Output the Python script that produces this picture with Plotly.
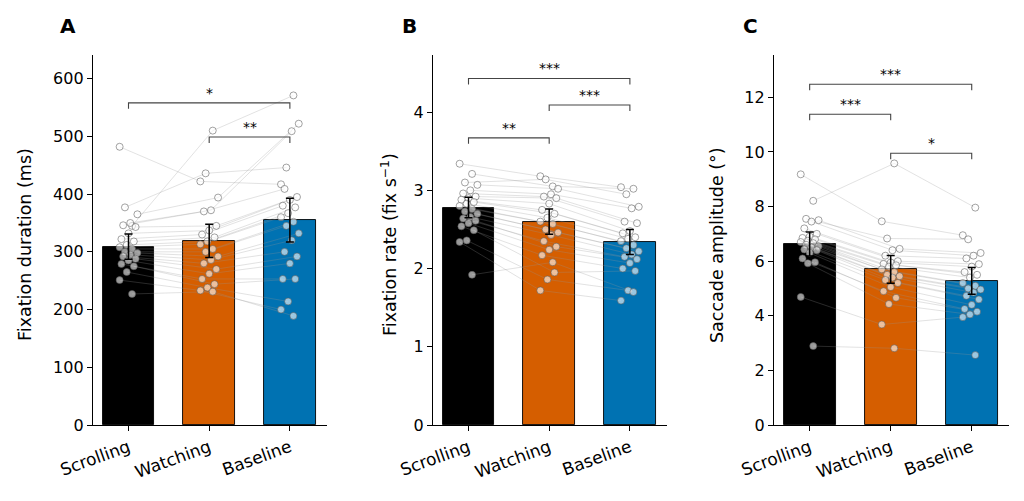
import plotly.graph_objects as go

conditions = ["Scrolling", "Watching", "Baseline"]
bar_colors = ["#000000", "#D55E00", "#0072B2"]

# Panel A: fixation duration (ms), one row per subject: scrolling, watching, baseline
dur_scroll = [482, 345, 377, 365, 350, 346, 343, 332, 322, 318, 312, 308,
              305, 300, 298, 295, 292, 288, 285, 279, 275, 265, 251, 227]
dur_watch = [422, 510, 436, 394, 372, 370, 345, 337, 330, 325, 318, 313,
             305, 300, 292, 286, 280, 270, 262, 253, 244, 238, 233, 231]
dur_base = [417, 571, 446, 522, 509, 409, 395, 390, 380, 377, 367, 360,
            352, 345, 332, 320, 300, 292, 280, 253, 253, 214, 200, 189]
dur_mean = [309, 319, 355]
dur_sem = [22, 29, 38]

# Panel B: fixation rate (fix/s)
rate_scroll = [3.34, 3.21, 3.10, 3.07, 3.00, 2.96, 2.92, 2.90, 2.88, 2.85, 2.83, 2.80,
               2.76, 2.73, 2.70, 2.66, 2.64, 2.61, 2.58, 2.54, 2.49, 2.36, 2.34, 1.92]
rate_watch = [3.18, 3.05, 3.14, 3.02, 2.95, 2.92, 2.90, 2.83, 2.75, 2.70, 2.65, 2.60,
              2.57, 2.50, 2.46, 2.43, 2.35, 2.28, 2.24, 2.17, 1.95, 1.86, 1.72, 2.08]
rate_base = [3.04, 3.02, 2.95, 2.79, 2.77, 2.60, 2.58, 2.48, 2.45, 2.40, 2.38, 2.35,
             2.30, 2.26, 2.22, 2.18, 2.15, 2.12, 2.07, 2.00, 1.97, 1.72, 1.59, 1.70]
rate_mean = [2.78, 2.60, 2.34]
rate_sem = [0.13, 0.16, 0.16]

# Panel C: saccade amplitude (deg)
amp_scroll = [9.18, 8.21, 7.55, 7.50, 7.45, 7.20, 7.00, 6.90, 6.85, 6.80, 6.75, 6.70,
              6.66, 6.60, 6.55, 6.50, 6.43, 6.40, 6.30, 6.10, 5.96, 5.92, 4.69, 2.89]
amp_watch = [7.46, 9.58, 6.83, 6.45, 6.40, 6.20, 6.00, 5.95, 5.90, 5.85, 5.80, 5.70,
             5.60, 5.50, 5.45, 5.40, 5.31, 5.20, 5.05, 4.90, 4.66, 4.43, 3.68, 2.81]
amp_base = [6.95, 7.96, 6.80, 6.30, 6.20, 6.10, 5.89, 5.80, 5.60, 5.50, 5.40, 5.20,
            5.10, 5.00, 4.96, 4.85, 4.73, 4.60, 4.40, 4.25, 4.15, 4.05, 3.95, 2.56]
amp_mean = [6.63, 5.70, 5.28]
amp_sem = [0.44, 0.51, 0.49]

# significance brackets: (from, to, height, label)
dur_sig = [(0, 2, 558, "*"), (1, 2, 499, "**")]
rate_sig = [(0, 2, 4.43, "***"), (0, 1, 3.67, "**"), (1, 2, 4.09, "***")]
amp_sig = [(0, 2, 12.48, "***"), (0, 1, 11.38, "***"), (1, 2, 9.95, "*")]

panels = [
    ("A", [dur_scroll, dur_watch, dur_base], dur_mean, dur_sem, dur_sig,
     "Fixation duration (ms)", [0, 641], [0, 100, 200, 300, 400, 500, 600]),
    ("B", [rate_scroll, rate_watch, rate_base], rate_mean, rate_sem, rate_sig,
     "Fixation rate (fix s<sup>−1</sup>)", [0, 4.73], [0, 1, 2, 3, 4]),
    ("C", [amp_scroll, amp_watch, amp_base], amp_mean, amp_sem, amp_sig,
     "Saccade amplitude (°)", [0, 13.55], [0, 2, 4, 6, 8, 10, 12]),
]

W, H = 1024, 501
OFF = 8  # page body margin shifts the figure by this much


def px_x(v):
    return (v - OFF) / W


def px_y(v):
    return 1 - (v - OFF) / H


x_domains = [[px_x(93), px_x(327)], [px_x(433), px_x(667)], [px_x(774), px_x(1009)]]
y_domain = [px_y(425), px_y(55)]
letter_x = [68, 409, 750]
ytitle_x = [25, 389, 717]
font = "DejaVu Sans"

fig = go.Figure()
n_sub = len(dur_scroll)
jitter = [((i * 7) % 11 - 5) * 0.022 for i in range(n_sub)]

for p, (label, groups, means, sems, sigs, ytitle, yrange, yticks) in enumerate(panels):
    xa = "x" if p == 0 else f"x{p + 1}"
    ya = "y" if p == 0 else f"y{p + 1}"

    fig.add_trace(go.Bar(
        x=[0, 1, 2], y=means, width=0.64, marker_color=bar_colors,
        marker_line_color="black", marker_line_width=0.9,
        xaxis=xa, yaxis=ya, showlegend=False, hoverinfo="skip"))

    # subject lines
    for i in range(n_sub):
        fig.add_trace(go.Scatter(
            x=[k + jitter[i] for k in range(3)], y=[g[i] for g in groups],
            mode="lines", line=dict(color="rgba(150,150,150,0.35)", width=0.8),
            xaxis=xa, yaxis=ya, showlegend=False, hoverinfo="skip"))

    # subject points
    for k, g in enumerate(groups):
        fig.add_trace(go.Scatter(
            x=[k + jitter[i] for i in range(n_sub)], y=g, mode="markers",
            marker=dict(size=7, color="rgba(255,255,255,0.6)",
                        line=dict(color="rgba(90,90,90,0.8)", width=0.7)),
            xaxis=xa, yaxis=ya, showlegend=False))

    # error bars
    fig.add_trace(go.Scatter(
        x=[0, 1, 2], y=means, mode="markers", marker=dict(size=1, color="rgba(0,0,0,0)"),
        error_y=dict(type="data", array=sems, color="black", thickness=1.5, width=4),
        xaxis=xa, yaxis=ya, showlegend=False, hoverinfo="skip"))

    # significance brackets
    tick = (yrange[1] - yrange[0]) * 0.016
    for a, b, h, txt in sigs:
        fig.add_trace(go.Scatter(
            x=[a, a, b, b], y=[h - tick, h, h, h - tick], mode="lines",
            line=dict(color="#444444", width=1.1),
            xaxis=xa, yaxis=ya, showlegend=False, hoverinfo="skip"))
        fig.add_annotation(x=(a + b) / 2, y=h, xref=xa, yref=ya, text=txt,
                           showarrow=False, yanchor="bottom", yshift=0,
                           font=dict(family=font, size=14, color="black"))

    # panel letter
    fig.add_annotation(x=px_x(letter_x[p]), y=px_y(26), xref="paper", yref="paper",
                       text=f"<b>{label}</b>", showarrow=False,
                       xanchor="center", yanchor="middle",
                       font=dict(family=font, size=20, color="black"))

    # y-axis title
    fig.add_annotation(x=px_x(ytitle_x[p]), y=px_y(245), xref="paper", yref="paper",
                       text=ytitle, showarrow=False, textangle=-90,
                       xanchor="center", yanchor="middle",
                       font=dict(family=font, size=17.5, color="black"))

    axis_common = dict(showline=True, linecolor="black", linewidth=1.3, ticks="outside",
                       ticklen=5, tickwidth=1.2, tickcolor="black", showgrid=False,
                       zeroline=False, automargin=False)
    fig.layout[("xaxis" if p == 0 else f"xaxis{p + 1}")] = dict(
        domain=x_domains[p], anchor=ya, range=[-0.44, 2.46],
        tickvals=[0, 1, 2], ticktext=conditions, tickangle=-20,
        tickfont=dict(family=font, size=17, color="black"), **axis_common)
    fig.layout[("yaxis" if p == 0 else f"yaxis{p + 1}")] = dict(
        domain=y_domain, anchor=xa, range=yrange, tickvals=yticks,
        tickfont=dict(family=font, size=16, color="black"), **axis_common)

fig.update_layout(
    width=W, height=H, margin=dict(l=0, r=0, t=0, b=0),
    plot_bgcolor="white", paper_bgcolor="white", bargap=0,
    font=dict(family=font, color="black"))

fig.write_html("out.html")
